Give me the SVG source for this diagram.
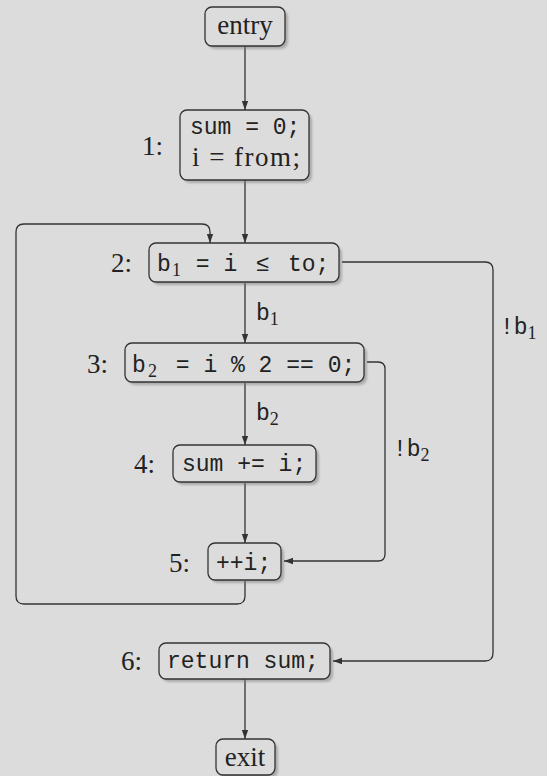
<svg xmlns="http://www.w3.org/2000/svg" width="547" height="776" viewBox="0 0 547 776">
  <style>
    .box { fill: #dcdcdc; stroke: #333; stroke-width: 1.3; }
    .shadow { fill: #7a7a7a; opacity: 0.5; filter: url(#soft); }
    .edge { fill: none; stroke: #333; stroke-width: 1.3; marker-end: url(#arrow); }
    .rm { font-family: "Liberation Serif", "Times New Roman", serif; font-size: 27px; fill: #222; }
    .tt { font-family: "Liberation Mono", "Courier New", monospace; font-size: 23px; fill: #222; }
    .sub { font-family: "Liberation Serif", "Times New Roman", serif; font-size: 18px; }
  </style>
  <defs>
    <filter id="soft" x="-10%" y="-20%" width="120%" height="140%">
      <feGaussianBlur stdDeviation="1.2"/>
    </filter>
    <marker id="arrow" viewBox="0 0 10 10" refX="10" refY="5" markerWidth="9" markerHeight="9" markerUnits="userSpaceOnUse" orient="auto">
      <path d="M0,1.5 L10,5 L0,8.5 Z" fill="#333"/>
    </marker>
  </defs>

  <rect x="0" y="0" width="547" height="776" fill="#dcdcdc"/>

  <g id="connectors">
    <path class="edge" d="M245,46 V110"/>
    <path class="edge" d="M245,180 V243"/>
    <path class="edge" d="M245,283 V343"/>
    <path class="edge" d="M245,383 V445"/>
    <path class="edge" d="M245,483 V543"/>
    <path class="edge" d="M245,679 V739"/>
    <path class="edge" d="M245,581 V596 Q245,604 237,604 H24 Q16,604 16,596 V232 Q16,224 24,224 H202 Q210,224 210,232 V243"/>
    <path class="edge" d="M342,262 H485 Q493,262 493,270 V653 Q493,661 485,661 H333"/>
    <path class="edge" d="M367,362 H378 Q385,362 385,369 V554 Q385,561 378,561 H284"/>
    <text class="tt" x="256" y="320">b<tspan class="sub" dy="5">1</tspan></text>
    <text class="tt" x="256" y="420">b<tspan class="sub" dy="5">2</tspan></text>
    <text class="tt" x="500" y="334">!b<tspan class="sub" dy="5">1</tspan></text>
    <text class="tt" x="393" y="456">!b<tspan class="sub" dy="5">2</tspan></text>
  </g>

  <g id="entry">
    <rect class="shadow" x="208" y="10" width="80" height="39" rx="7"/>
    <rect class="box" x="205" y="7" width="80" height="39" rx="7"/>
    <text class="rm" x="245" y="34" text-anchor="middle">entry</text>
  </g>

  <g id="node1">
    <rect class="shadow" x="183" y="113" width="129" height="70" rx="7"/>
    <rect class="box" x="180" y="110" width="129" height="70" rx="7"/>
    <text class="tt" x="190" y="134">sum = 0;</text>
    <text class="rm" x="192" y="166" textLength="108" lengthAdjust="spacing">i = from;</text>
    <text class="rm" x="142" y="155">1:</text>
  </g>

  <g id="node2">
    <rect class="shadow" x="152" y="246" width="190" height="39" rx="7"/>
    <rect class="box" x="149" y="243" width="190" height="39" rx="7"/>
    <text class="tt" x="157" y="271">b<tspan class="sub" x="172" dy="5">1</tspan><tspan x="182" dy="-5"> = i</tspan><tspan x="256">≤</tspan><tspan x="288">to;</tspan></text>
    <text class="rm" x="111" y="272">2:</text>
  </g>

  <g id="node3">
    <rect class="shadow" x="128" y="346" width="239" height="39" rx="7"/>
    <rect class="box" x="125" y="343" width="239" height="39" rx="7"/>
    <text class="tt" x="132" y="372">b<tspan class="sub" x="148" dy="5">2</tspan><tspan x="162" dy="-5"> = i % 2 == 0;</tspan></text>
    <text class="rm" x="87" y="373">3:</text>
  </g>

  <g id="node4">
    <rect class="shadow" x="176" y="448" width="143" height="37" rx="7"/>
    <rect class="box" x="173" y="445" width="143" height="37" rx="7"/>
    <text class="tt" x="182" y="471">sum += i;</text>
    <text class="rm" x="134" y="473">4:</text>
  </g>

  <g id="node5">
    <rect class="shadow" x="211" y="546" width="73" height="37" rx="7"/>
    <rect class="box" x="208" y="543" width="73" height="37" rx="7"/>
    <text class="tt" x="216" y="570">++i;</text>
    <text class="rm" x="169" y="572">5:</text>
  </g>

  <g id="node6">
    <rect class="shadow" x="162" y="646" width="171" height="36" rx="7"/>
    <rect class="box" x="159" y="643" width="171" height="36" rx="7"/>
    <text class="tt" x="167" y="668">return sum;</text>
    <text class="rm" x="121" y="670">6:</text>
  </g>

  <g id="exit">
    <rect class="shadow" x="219" y="742" width="59" height="36" rx="7"/>
    <rect class="box" x="216" y="739" width="59" height="36" rx="7"/>
    <text class="rm" x="245" y="766" text-anchor="middle">exit</text>
  </g>
</svg>
